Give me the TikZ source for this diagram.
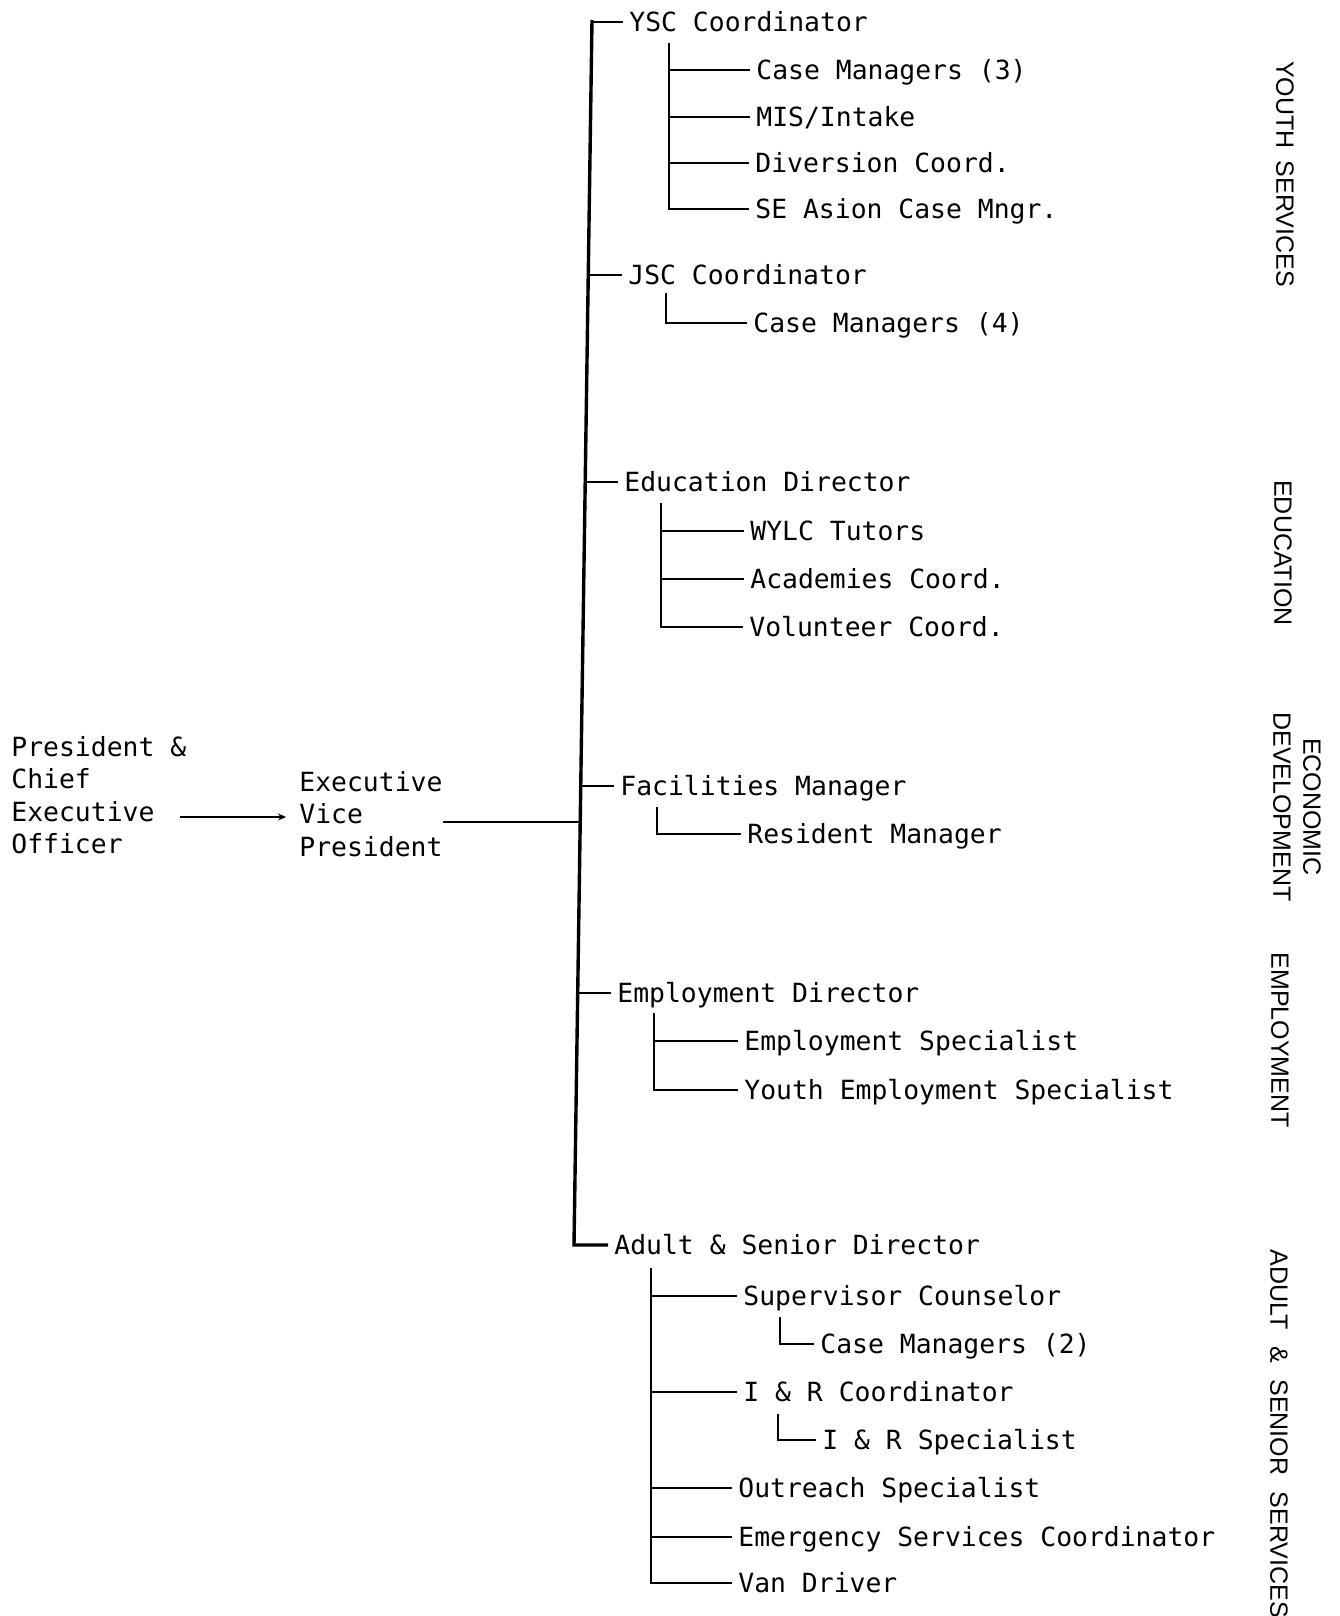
\documentclass[tikz,border=0pt]{standalone}
\usepackage{fontspec}
\setmonofont{DejaVu Sans Mono}
\newfontfamily\areafont{Liberation Sans}
\usetikzlibrary{arrows.meta,calc}
\newcommand\wgap{\hspace{6pt}}
\newcommand\wgapwide{\hspace{8.3pt}}
\begin{document}
\begin{tikzpicture}[x=0.5pt,y=-0.5pt,
  role/.style={anchor=west,inner xsep=3pt,inner ysep=0pt,text height=9.5pt,text depth=0pt,
    font=\ttfamily\fontsize{13.2}{16.2}\selectfont},
  block/.style={anchor=west,inner sep=0pt,align=left,
    font=\ttfamily\fontsize{13.2}{16.2}\selectfont},
  area/.style={rotate=-90,inner sep=0pt,align=center,
    font=\areafont\fontsize{12.5}{15}\selectfont},
  link/.style={line width=1.4pt},
  bus/.style={line width=1.7pt},
  arr/.style={line width=1.3pt,-{Stealth[length=4pt,width=3.5pt]}}
]
\useasboundingbox (0,0) rectangle (1339,1616);

% executives
\node[block] (pceo) at (11,795) {President \&\\Chief\\Executive\\Officer};
\node[block] (evp) at (299,814) {Executive\\Vice\\President};
\coordinate (pout) at (180,817);
\draw[arr,shorten >=6.5pt] (pout) -- (evp.west |- pout);

% main bus
\coordinate (mtop) at (592,20);
\coordinate (mY) at (592,22);
\coordinate (mJ) at (588,275);
\coordinate (mE) at (585,482);
\coordinate (mF) at (581,786);
\coordinate (mV) at (580.5,822);
\coordinate (mM) at (578,993);
\coordinate (mbot) at (574,1245);
\draw[link] (evp.east |- mV) -- (mV);

% department heads
\node[role] (ysc) at (623,22) {YSC Coordinator};
\node[role] (jsc) at (622,275) {JSC Coordinator};
\node[role] (edu) at (618,482) {Education Director};
\node[role] (fac) at (614,786) {Facilities Manager};
\node[role] (emp) at (611,993) {Employment Director};
\node[role] (adult) at (608,1245) {Adult \& Senior Director};

\draw[bus] (mtop) -- (mbot) -- (adult.west);
\foreach \m/\n in {mY/ysc,mJ/jsc,mE/edu,mF/fac,mM/emp}
  \draw[link] (\m) -- (\n.west);

% youth services
\node[role] (cm3) at (750,70) {Case Managers (3)};
\node[role] (mis) at (750,117) {MIS/Intake};
\node[role] (div) at (749,163) {Diversion Coord.};
\node[role] (sea) at (749,209) {SE Asion Case Mngr.};
\coordinate (yscb) at (669,43);
\draw[link] (yscb) |- (sea.west);
\foreach \n in {cm3,mis,div} \draw[link] (yscb |- \n.west) -- (\n.west);

\node[role] (cm4) at (747,323) {Case Managers (4)};
\coordinate (jscb) at (666,293);
\draw[link] (jscb) |- (cm4.west);

% education
\node[role] (wylc) at (744,531) {WYLC Tutors};
\node[role] (acad) at (744,579) {Academies Coord.};
\node[role] (vol) at (743,627) {Volunteer Coord.};
\coordinate (edub) at (661,503);
\draw[link] (edub) |- (vol.west);
\foreach \n in {wylc,acad} \draw[link] (edub |- \n.west) -- (\n.west);

% economic development
\node[role] (res) at (741,834) {Resident Manager};
\coordinate (facb) at (657,807);
\draw[link] (facb) |- (res.west);

% employment
\node[role] (es) at (738,1041) {Employment Specialist};
\node[role] (yes) at (738,1090) {Youth Employment Specialist};
\coordinate (empb) at (654,1013);
\draw[link] (empb) |- (yes.west);
\draw[link] (empb |- es.west) -- (es.west);

% adult & senior services
\node[role] (sup) at (737,1296) {Supervisor Counselor};
\node[role] (cm2) at (814,1344) {Case Managers (2)};
\node[role] (irc) at (737,1392) {I \& R Coordinator};
\node[role] (irs) at (816,1440) {I \& R Specialist};
\node[role] (out) at (732,1488) {Outreach Specialist};
\node[role] (emer) at (732,1537) {Emergency Services Coordinator};
\node[role] (van) at (732,1583) {Van Driver};
\coordinate (adb) at (651,1268);
\draw[link] (adb) |- (van.west);
\foreach \n in {sup,irc,out,emer} \draw[link] (adb |- \n.west) -- (\n.west);
\coordinate (supb) at (780,1317);
\draw[link] (supb) |- (cm2.west);
\coordinate (ircb) at (778,1414);
\draw[link] (ircb) |- (irs.west);

% area labels
\node[area] (lys) at (1285,174) {YOUTH\wgap SERVICES};
\node[area] (led) at (1283,553) {EDUCATION};
\node[area] (lec) at (1297,807) {ECONOMIC\\DEVELOPMENT};
\node[area] (lem) at (1280,1040) {EMPLOYMENT};
\node[area,anchor=west] (las) at (1279,1249) {ADULT\wgapwide\&\wgapwide SENIOR\wgapwide SERVICES};
\end{tikzpicture}
\end{document}
